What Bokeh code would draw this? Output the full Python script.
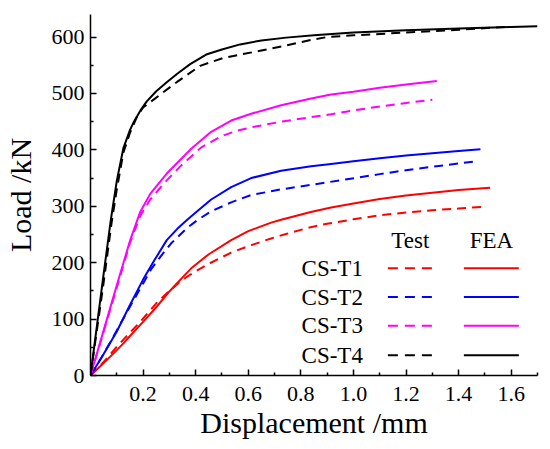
from bokeh.plotting import figure
from bokeh.models import FixedTicker, Label, Range1d, PrintfTickFormatter
from bokeh.embed import file_html
from bokeh.resources import INLINE

# ---------------- data ----------------
fea_t1_x = [0, 0.05, 0.1, 0.125, 0.15, 0.2, 0.25, 0.3, 0.35, 0.383, 0.45, 0.535, 0.6, 0.687, 0.725, 0.838, 0.915, 1.0, 1.1, 1.2, 1.3, 1.4, 1.52]
fea_t1_y = [0, 22, 45, 57, 70, 95, 121, 149, 174, 190, 215, 240, 256, 271, 276, 290, 298, 305, 313, 319, 324, 329, 333]
test_t1_x = [0, 0.05, 0.1, 0.15, 0.189, 0.25, 0.3, 0.35, 0.404, 0.45, 0.535, 0.617, 0.687, 0.744, 0.838, 0.9, 1.0, 1.1, 1.2, 1.3, 1.4, 1.49]
test_t1_y = [0, 24, 51, 76, 95, 128, 150, 170, 186, 198, 218, 232, 243, 251, 263, 269, 277, 284, 289, 293, 296, 299]

fea_t2_x = [0, 0.05, 0.1, 0.15, 0.2, 0.24, 0.29, 0.33, 0.37, 0.408, 0.459, 0.535, 0.611, 0.725, 0.839, 0.915, 1.0, 1.1, 1.2, 1.3, 1.4, 1.483]
fea_t2_y = [0, 38, 78, 125, 170, 202, 240, 260, 277, 292, 312, 334, 350, 363, 371, 375, 380, 385, 390, 394, 398, 401]
test_t2_x = [0, 0.05, 0.1, 0.15, 0.2, 0.23, 0.265, 0.306, 0.366, 0.408, 0.459, 0.535, 0.611, 0.725, 0.839, 0.95, 1.1, 1.2, 1.3, 1.4, 1.47]
test_t2_y = [0, 38, 80, 122, 163, 188, 210, 234, 261, 276, 291, 307, 320, 330, 338, 346, 357, 364, 370, 376, 380]

fea_t3_x = [0, 0.05, 0.1, 0.151, 0.189, 0.227, 0.29, 0.383, 0.459, 0.535, 0.611, 0.725, 0.839, 0.915, 1.0, 1.1, 1.2, 1.317]
fea_t3_y = [0, 80, 160, 240, 290, 322, 358, 402, 432, 452, 464, 479, 491, 498, 503, 510, 516, 522]
test_t3_x = [0, 0.05, 0.1, 0.15, 0.189, 0.227, 0.29, 0.344, 0.42, 0.497, 0.55, 0.611, 0.725, 0.839, 0.915, 1.0, 1.1, 1.2, 1.3]
test_t3_y = [0, 78, 156, 235, 283, 312, 346, 372, 404, 424, 433, 440, 450, 458, 463, 470, 477, 483, 489]

fea_t4_x = [0, 0.025, 0.05, 0.077, 0.1, 0.125, 0.15, 0.165, 0.19, 0.214, 0.25, 0.29, 0.33, 0.379, 0.44, 0.5, 0.569, 0.65, 0.744, 0.85, 1.0, 1.2, 1.4, 1.6, 1.7]
fea_t4_y = [0, 90, 180, 275, 345, 403, 435, 450, 470, 486, 504, 520, 535, 552, 569, 578, 587, 594, 599, 603, 608, 612, 615, 618, 619]
test_t4_x = [0, 0.05, 0.08, 0.1, 0.125, 0.15, 0.176, 0.2, 0.265, 0.328, 0.417, 0.505, 0.569, 0.65, 0.744, 0.85, 0.9, 1.0, 1.2, 1.4, 1.58]
test_t4_y = [0, 165, 270, 330, 395, 430, 458, 475, 498, 520, 549, 563, 569, 576, 585, 596, 600, 603, 608, 613, 618]

series_names = ["CS-T1", "CS-T2", "CS-T3", "CS-T4"]
series_colors = ["#FF0000", "#0000FF", "#FF00FF", "#000000"]
x_ticks = [0.2, 0.4, 0.6, 0.8, 1.0, 1.2, 1.4, 1.6]
x_minor = [0.1, 0.3, 0.5, 0.7, 0.9, 1.1, 1.3, 1.5, 1.7]
y_ticks = [0, 100, 200, 300, 400, 500, 600]
y_minor = [50, 150, 250, 350, 450, 550]

FONT = "Liberation Serif"

p = figure(width=550, height=449, output_backend="svg", toolbar_location=None,
           x_range=Range1d(0, 1.7), y_range=Range1d(0, 640),
           min_border_left=89, min_border_right=13, min_border_top=14, min_border_bottom=74)
p.outline_line_color = None
p.grid.visible = False
p.background_fill_color = "white"
p.border_fill_color = "white"

for ax in (p.xaxis[0], p.yaxis[0]):
    ax.axis_line_width = 1.5
    ax.axis_line_color = "black"
    ax.major_tick_in = 6
    ax.major_tick_out = 0
    ax.minor_tick_in = 3
    ax.minor_tick_out = 0
    ax.major_tick_line_width = 1.5
    ax.minor_tick_line_width = 1.5
    ax.major_label_text_font = FONT
    ax.major_label_text_font_size = "22px"
    ax.major_label_text_color = "black"
    ax.axis_label_text_font = FONT
    ax.axis_label_text_font_style = "normal"
    ax.axis_label_text_color = "black"
    ax.axis_label_text_font_size = "30px"

p.xaxis[0].ticker = FixedTicker(ticks=x_ticks, minor_ticks=x_minor)
p.yaxis[0].ticker = FixedTicker(ticks=y_ticks, minor_ticks=y_minor)
p.xaxis[0].formatter = PrintfTickFormatter(format="%.1f")
p.xaxis[0].axis_label = "Displacement /mm"
p.yaxis[0].axis_label = "Load /kN"
p.xaxis[0].major_label_standoff = 11
p.yaxis[0].major_label_standoff = 6
p.xaxis[0].axis_label_standoff = 2
p.yaxis[0].axis_label_standoff = 12

tests = [(test_t1_x, test_t1_y), (test_t2_x, test_t2_y), (test_t3_x, test_t3_y), (test_t4_x, test_t4_y)]
feas = [(fea_t1_x, fea_t1_y), (fea_t2_x, fea_t2_y), (fea_t3_x, fea_t3_y), (fea_t4_x, fea_t4_y)]

DASH = "9 6"
for (tx, ty), (fx, fy), c in zip(tests, feas, series_colors):
    p.line(tx, ty, line_color=c, line_width=2, line_dash=DASH, line_join="round")
    p.line(fx, fy, line_color=c, line_width=2, line_join="round")

# ---------------- legend (layout in data space) ----------------
leg_rows = [190, 139, 88, 36]
leg_head_y = 240
leg_text_right = 1.036
leg_test = (1.131, 1.302)
leg_fea = (1.420, 1.629)

p.add_layout(Label(x=(leg_test[0] + leg_test[1]) / 2, y=leg_head_y, text="Test",
                   text_font=FONT, text_font_size="23px", text_align="center",
                   text_baseline="middle", text_color="black"))
p.add_layout(Label(x=(leg_fea[0] + leg_fea[1]) / 2, y=leg_head_y, text="FEA",
                   text_font=FONT, text_font_size="23px", text_align="center",
                   text_baseline="middle", text_color="black"))
for name, c, ry in zip(series_names, series_colors, leg_rows):
    p.add_layout(Label(x=leg_text_right, y=ry, text=name, text_font=FONT,
                       text_font_size="23px", text_align="right",
                       text_baseline="middle", text_color="black"))
    p.segment(x0=[leg_test[0]], y0=[ry], x1=[leg_test[1]], y1=[ry],
              line_color=c, line_width=2, line_dash="10 7")
    p.segment(x0=[leg_fea[0]], y0=[ry], x1=[leg_fea[1]], y1=[ry],
              line_color=c, line_width=2)

open("out.html", "w").write(file_html(p, INLINE))
